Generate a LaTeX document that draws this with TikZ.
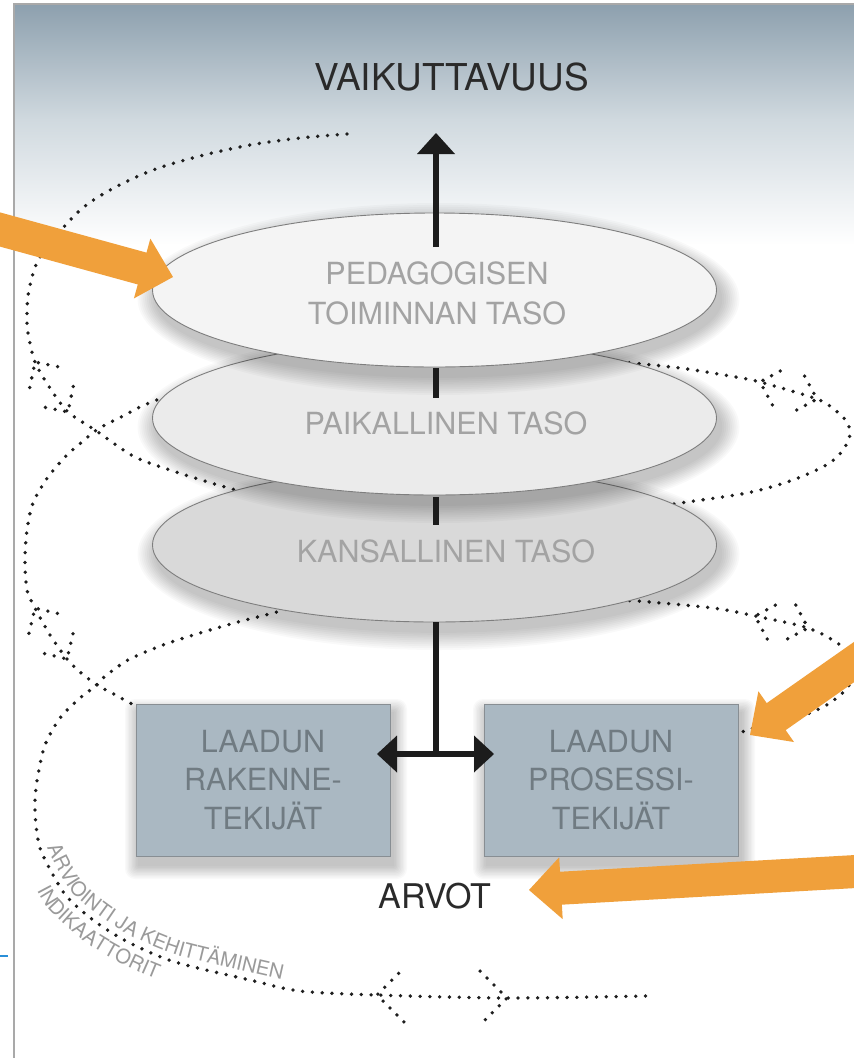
\documentclass[tikz,border=0pt]{standalone}
\usepackage{fontspec}
\setmainfont{TeX Gyre Heros}
\usetikzlibrary{calc,decorations.text,shapes.geometric}
\definecolor{orng}{HTML}{F0A03B}
\definecolor{topgrey}{HTML}{8DA0AE}
\definecolor{midgrey}{HTML}{D0D9DF}
\definecolor{framec}{HTML}{A9A9A9}
\definecolor{dotc}{HTML}{1E1E1E}
\definecolor{eAfill}{HTML}{F4F4F4}
\definecolor{eBfill}{HTML}{EBEBEB}
\definecolor{eCfill}{HTML}{D9D9D9}
\definecolor{eline}{HTML}{7E7E7E}
\definecolor{etxt}{HTML}{A3A3A3}
\definecolor{ctxt}{HTML}{9A9A9A}
\definecolor{boxfill}{HTML}{AAB8C2}
\definecolor{boxline}{HTML}{888E93}
\definecolor{boxtxt}{HTML}{707B82}
\definecolor{darktxt}{HTML}{2A2A2A}
\definecolor{blk}{HTML}{1C1C1C}
\definecolor{tickblue}{HTML}{2A8FD8}
% chevron of dots: vertex, arm direction, arm length
\newcommand\mychev[3]{\draw[dotline] ($(#1)+(#2+45:#3)$) -- (#1) -- ($(#1)+(#2-45:#3)$);}
% filled triangular head: colour, tip, point behind, length, half width
\newcommand\trihead[5]{\coordinate (thb) at ($(#2)!#4!(#3)$);
  \fill[#1] (#2) -- ($(thb)!#5!90:(#2)$) -- ($(thb)!#5!-90:(#2)$) -- cycle;}
% soft shadow of an ellipse
\newcommand\eshadow[2]{\foreach \k in {1,...,10}{\fill[black,opacity=0.024] (#1+4,#2+9) ellipse [x radius={282+1.9*\k}, y radius={77+1.9*\k}];}}
% soft shadow of a box
\newcommand\bshadow[4]{\foreach \k in {1,...,10}{\fill[black,opacity=0.022,rounded corners=\k pt] (#1+3-1.4*\k,#2+9-1.4*\k) rectangle (#3+3+1.4*\k,#4+9+1.4*\k);}}
\begin{document}
\begin{tikzpicture}[x=1pt,y=-1pt,
 dotline/.style={draw=dotc, line width=3.8pt, line cap=round, dash pattern=on 0pt off 9.8pt},
 ell/.style={ellipse, draw=eline, line width=0.9pt, minimum width=564pt, minimum height=154pt, inner sep=0pt},
 etext/.style={text=etxt, font=\fontsize{30.5}{40}\selectfont, align=center, inner sep=0pt},
 qbox/.style={rectangle, draw=boxline, line width=1pt, fill=boxfill, minimum width=254pt, minimum height=152pt, inner sep=0pt, text=boxtxt, font=\fontsize{30.5}{38.5}\selectfont, align=center},
 blkline/.style={draw=blk, line width=6.5pt},
 bigtxt/.style={text=darktxt, inner sep=0pt}]
\useasboundingbox (0,0) rectangle (854,1058);
\clip (0,0) rectangle (854,1058);
% background
\fill[white] (0,0) rectangle (854,1058);
\shade[top color=topgrey, bottom color=midgrey] (14,4) rectangle (854,120);
\shade[top color=midgrey, bottom color=white] (14,119.5) rectangle (854,245);
\draw[framec, line width=1.3pt] (14,1058) -- (14,4) -- (854,4);
\draw[tickblue, line width=2pt] (0,956) -- (8,956);
% dotted spiral
\draw[dotline] plot[smooth] coordinates {(347,134) (300,138) (250,145) (200,156) (153,170) (110,190) (77,213) (40,257) (29,290) (27,313) (28,333) (35,362) (50,388) (68,412) (95,430) (133,456) (170,470) (208,482) (250,494)};
\draw[dotline] plot[smooth] coordinates {(175,393) (162,398) (142,406) (123,416) (107,424) (95,431) (82,442) (67,455) (48,477) (33,503) (27,530) (25,560) (27,590) (35,608) (50,635) (67,659) (80,672) (97,685) (112,693) (132,704) (150,712)};
\draw[dotline] plot[smooth] coordinates {(295,606) (277,612) (238,622) (200,633) (163,645) (128,660) (103,678) (97,685) (80,698) (60,718) (45,745) (38,775) (35,800) (36,825) (40,848) (52,873) (68,898) (97,923) (130,943) (175,962) (250,980) (300,991) (377,995) (507,998) (647,996)};
\draw[dotline] plot[smooth] coordinates {(600,360) (622,362) (680,368) (730,376) (760,382) (817,399) (835,410) (847,422) (850,435) (843,450) (828,464) (793,480) (747,493) (680,503) (650,508)};
\draw[dotline] plot[smooth] coordinates {(610,600) (637,601) (713,608) (755,616) (808,628) (840,645) (855,665) (848,687) (825,706) (790,720) (750,729) (742,732) (720,737)};
% chevrons
\mychev{35,362}{56.6}{26}
\mychev{68,412}{236.6}{26}
\mychev{35,608}{58.5}{26}
\mychev{67,659}{238.5}{26}
\mychev{760,382}{16.6}{26}
\mychev{817,399}{196.6}{26}
\mychev{755,616}{17}{26}
\mychev{808,628}{197}{26}
\mychev{377,995}{0}{38}
\mychev{507,998}{180}{38}
% curved labels
\path[decorate, decoration={text along path, text align=left, text={|\color{ctxt}\fontsize{20}{20}\selectfont|ARVIOINTI JA KEHITTÄMINEN}}] plot[smooth] coordinates {(47,847) (58,870) (73,894) (101,917) (133,937) (177,955) (252,973) (301,984)};
\path[decorate, decoration={text along path, text align=left, text={|\color{ctxt}\fontsize{20}{20}\selectfont|INDIKAATTORIT}}] plot[smooth] coordinates {(37,890) (51,912) (84,941) (121,963) (168,983) (245,1001)};
% ellipses
\eshadow{434.5}{545}
\node[ell, fill=eCfill] (e3) at (434.5,545) {};
\eshadow{434.5}{418}
\node[ell, fill=eBfill] (e2) at (434.5,418) {};
\eshadow{434.5}{290}
\node[ell, fill=eAfill] (e1) at (434.5,290) {};
\node[etext] (t1) at (437,293.5) {PEDAGOGISEN\\TOIMINNAN TASO};
\node[etext] (t2) at (446,423.5) {PAIKALLINEN TASO};
\node[etext] (t3) at (446,551.5) {KANSALLINEN TASO};
% black connectors
\coordinate (bar1a) at (436,368); \coordinate (bar1b) at (436,398);
\coordinate (bar2a) at (436,497); \coordinate (bar2b) at (436,525);
\draw[blkline] (bar1a) -- (bar1b);
\draw[blkline] (bar2a) -- (bar2b);
\node[bigtxt, font=\fontsize{37}{40}\selectfont] (vai) at (451.5,77) {VAIKUTTAVUUS};
\coordinate (upA) at (436,247); \coordinate (upB) at (436,133);
\draw[blkline] (upA) -- ($(upB)!12pt!(upA)$);
\trihead{blk}{upB}{upA}{21pt}{19pt}
% boxes
\bshadow{136}{704}{390}{856}
\bshadow{484}{704}{738}{856}
\node[qbox] (b1) at (263,780) {LAADUN\\RAKENNE-\\TEKIJÄT};
\node[qbox] (b2) at (611,780) {LAADUN\\PROSESSI-\\TEKIJÄT};
\coordinate (hm) at (436,754);
\coordinate (hl) at (377,754); \coordinate (hr) at (494,754);
\draw[blkline] (hm |- e3.south) -- (hm);
\draw[blkline] ($(hl)!10pt!(hr)$) -- ($(hr)!10pt!(hl)$);
\trihead{blk}{hl}{hr}{20pt}{18.5pt}
\trihead{blk}{hr}{hl}{20pt}{18.5pt}
\node[bigtxt, font=\fontsize{34}{40}\selectfont] (arvot) at (435,896) {ARVOT};
% orange arrows
\coordinate (o1t) at (-20,224); \coordinate (o1h) at (173,277);
\coordinate (o2t) at (914,620); \coordinate (o2h) at (750,735);
\coordinate (o3t) at (900,869); \coordinate (o3h) at (529,890);
\foreach \t/\h in {o1t/o1h,o2t/o2h,o3t/o3h}{
  \draw[orng, line width=33pt] (\t) -- ($(\h)!30pt!(\t)$);
  \trihead{orng}{\h}{\t}{32pt}{31pt}
}
\end{tikzpicture}
\end{document}
